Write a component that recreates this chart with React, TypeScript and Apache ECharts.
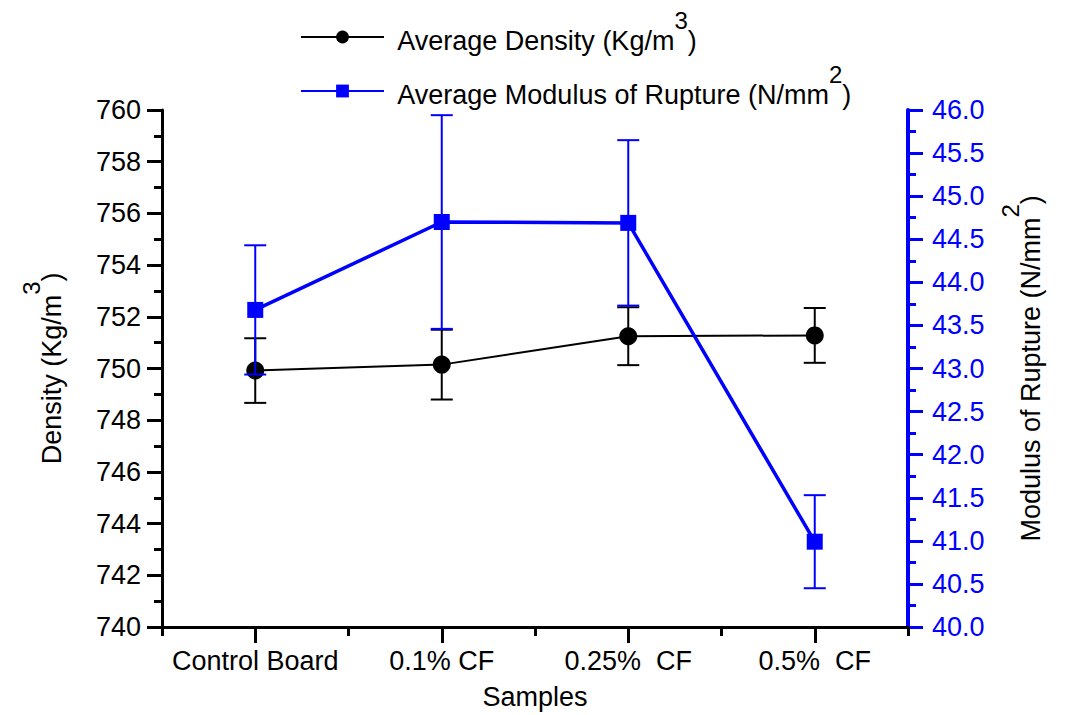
import React, { useEffect, useRef } from "react";
import * as echarts from "echarts";

const categories = ["Control Board", "0.1% CF", "0.25%  CF", "0.5%  CF"];
const densityValues = [749.92, 750.15, 751.25, 751.28];
const densityErr = [1.25, 1.35, 1.12, 1.06];
const morValues = [43.68, 44.7, 44.69, 40.99];
const morErr = [0.75, 1.24, 0.96, 0.54];
const legendNames = ["Average Density", "Average Modulus of Rupture"];

const FONT = "'Liberation Sans', Arial, sans-serif";
const BLUE = "#0000FF";
const FS = 27;

const rich = {
  h: { fontSize: 1, lineHeight: 46, verticalAlign: "bottom" },
  t: { fontSize: FS, fontFamily: FONT, color: "#000", verticalAlign: "bottom", lineHeight: 30 },
  s: { fontSize: 24, fontFamily: FONT, color: "#000", verticalAlign: "top", lineHeight: 16 },
};

export default function App() {
  const ref = useRef<HTMLDivElement>(null);
  useEffect(() => {
    document.body.style.margin = "0";
    const chart = echarts.init(ref.current!, undefined, { renderer: "svg" });
    const errData = (vals: number[], errs: number[]) =>
      vals.map((v, i) => [i, v - errs[i], v + errs[i]]);
    const errRender = (color: string) => (params: any, api: any) => {
      const x = api.value(0);
      const lo = api.coord([x, api.value(1)]);
      const hi = api.coord([x, api.value(2)]);
      const hw = 11;
      const style = { stroke: color, lineWidth: 2, fill: "none" };
      return {
        type: "group",
        children: [
          { type: "line", shape: { x1: lo[0], y1: lo[1], x2: hi[0], y2: hi[1] }, style },
          { type: "line", shape: { x1: lo[0] - hw, y1: lo[1], x2: lo[0] + hw, y2: lo[1] }, style },
          { type: "line", shape: { x1: hi[0] - hw, y1: hi[1], x2: hi[0] + hw, y2: hi[1] }, style },
        ],
      };
    };
    const legendFmt = (name: string) =>
      name === legendNames[0]
        ? "{h| }{t|Average Density (Kg/m}{s|3}{t|)}"
        : "{h| }{t|Average Modulus of Rupture (N/mm}{s|2}{t|)}";
    const mkLegend = (name: string, top: number) => ({
      orient: "vertical",
      left: 300,
      top,
      padding: 0,
      itemWidth: 83,
      itemHeight: 16,
      data: [name],
      formatter: legendFmt,
      textStyle: { padding: [0, 0, 12, 8], rich },
    });
    const option: any = {
      animation: false,
      backgroundColor: "#ffffff",
      textStyle: { fontFamily: FONT },
      grid: { left: 162, right: 181, top: 110, bottom: 87, containLabel: false },
      legend: [mkLegend(legendNames[0], 8), mkLegend(legendNames[1], 62)],
      xAxis: [
        {
          type: "category",
          data: categories,
          position: "bottom",
          name: "Samples",
          nameLocation: "middle",
          nameGap: 56,
          nameTextStyle: { fontSize: FS, color: "#000", fontFamily: FONT },
          axisLine: { show: true, lineStyle: { color: "#000", width: 3 } },
          axisTick: { show: true, inside: false, alignWithLabel: true, interval: 0, length: 16, lineStyle: { color: "#000", width: 3 } },
          axisLabel: { interval: 0, fontSize: FS, color: "#000", margin: 20, fontFamily: FONT },
          z: 5,
        },
        {
          type: "category",
          data: categories,
          position: "bottom",
          offset: 0,
          axisLine: { show: false },
          axisTick: { show: true, inside: false, interval: 0, length: 9, lineStyle: { color: "#000", width: 3 } },
          axisLabel: { show: false },
          z: 5,
        },
      ],
      yAxis: [
        {
          type: "value",
          min: 740,
          max: 760,
          interval: 2,
          position: "left",
          name: "{h| }{t|Density (Kg/m}{s|3}{t|)}",
          nameLocation: "middle",
          nameRotate: 90,
          nameGap: 97,
          nameTextStyle: { rich },
          splitLine: { show: false },
          axisLine: { show: true, lineStyle: { color: "#000", width: 3 } },
          axisTick: { show: true, length: 15, lineStyle: { color: "#000", width: 3 } },
          minorTick: { show: true, splitNumber: 2, length: 8, lineStyle: { color: "#000", width: 3 } },
          axisLabel: { fontSize: FS, color: "#000", margin: 21, fontFamily: FONT },
        },
        {
          type: "value",
          min: 40,
          max: 46,
          interval: 0.5,
          position: "right",
          name: "{h| }{t|Modulus of Rupture (N/mm}{s|2}{t|)}",
          nameLocation: "middle",
          nameRotate: 90,
          nameGap: 90,
          nameTextStyle: { rich },
          splitLine: { show: false },
          axisLine: { show: true, lineStyle: { color: BLUE, width: 4 } },
          axisTick: { show: true, length: 15, lineStyle: { color: BLUE, width: 3 } },
          minorTick: { show: true, splitNumber: 2, length: 8, lineStyle: { color: BLUE, width: 3 } },
          axisLabel: {
            fontSize: FS,
            color: BLUE,
            margin: 24,
            fontFamily: FONT,
            formatter: (v: number) => v.toFixed(1),
          },
        },
      ],
      series: [
        {
          type: "custom",
          name: "densityErr",
          xAxisIndex: 0,
          yAxisIndex: 0,
          renderItem: errRender("#000"),
          data: errData(densityValues, densityErr),
          z: 1,
          silent: true,
        },
        {
          type: "line",
          name: legendNames[0],
          xAxisIndex: 0,
          yAxisIndex: 0,
          data: densityValues,
          symbol: "circle",
          symbolSize: 18,
          itemStyle: { color: "#000" },
          lineStyle: { color: "#000", width: 2 },
          z: 2,
        },
        {
          type: "custom",
          name: "morErr",
          xAxisIndex: 0,
          yAxisIndex: 1,
          renderItem: errRender(BLUE),
          data: errData(morValues, morErr),
          z: 3,
          silent: true,
        },
        {
          type: "line",
          name: legendNames[1],
          xAxisIndex: 0,
          yAxisIndex: 1,
          data: morValues,
          symbol: "rect",
          symbolSize: 16,
          itemStyle: { color: BLUE },
          lineStyle: { color: BLUE, width: 3.5 },
          z: 4,
        },
      ],
    };
    chart.setOption(option);
    return () => chart.dispose();
  }, []);
  return <div ref={ref} style={{ width: 1089, height: 715 }} />;
}
